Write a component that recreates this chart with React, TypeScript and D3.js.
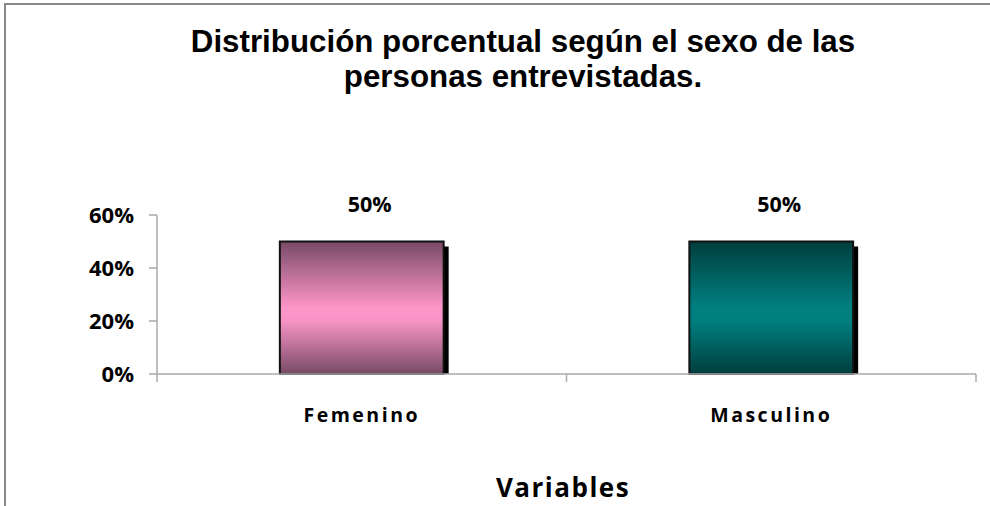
import React from "react";
import * as d3 from "d3";

const categories = ["Femenino", "Masculino"];
const values = [50, 50];
const yTicks = [0, 20, 40, 60];
const titleLines = ["Distribución porcentual según el sexo de las", "personas entrevistadas."];
const xTitle = "Variables";

const W = 990, H = 506;
const plotL = 157, plotR = 976, plotT = 215, plotB = 374;

export default function App() {
  const x = d3.scaleBand<string>().domain(categories).range([plotL, plotR]).paddingInner(0.6).paddingOuter(0.3);
  const band = d3.scaleBand<string>().domain(categories).range([plotL, plotR]);
  const y = d3.scaleLinear().domain([0, 60]).range([plotB, plotT]);
  const bw = x.bandwidth();
  const labelFont = "'Open Sans', 'DejaVu Sans', sans-serif";
  return (
    <svg width={W} height={H} style={{ position: "absolute", left: 0, top: 0, background: "#fff" }}>
      <defs>
        <linearGradient id="gF" x1="0" y1="0" x2="0" y2="1">
          <stop offset="0" stopColor="#774a66" />
          <stop offset="0.5" stopColor="#ff96c9" />
          <stop offset="0.6" stopColor="#f794c5" />
          <stop offset="1" stopColor="#774a66" />
        </linearGradient>
        <linearGradient id="gM" x1="0" y1="0" x2="0" y2="1">
          <stop offset="0" stopColor="#003d3d" />
          <stop offset="0.5" stopColor="#008080" />
          <stop offset="0.6" stopColor="#007f7f" />
          <stop offset="1" stopColor="#003d3d" />
        </linearGradient>
      </defs>
      <rect x={0} y={0} width={W} height={H} fill="#fff" />
      <path d={`M5,${H} V4 H${W}`} fill="none" stroke="#888" strokeWidth={2} />
      {titleLines.map((t, i) => (
        <text key={i} x={523} y={52 + i * 35} textAnchor="middle" fontFamily="'Liberation Sans', Arial, sans-serif" fontWeight="bold" fontSize={31.3} fill="#000">{t}</text>
      ))}
      {/* axes */}
      <line x1={plotL} x2={plotL} y1={plotT} y2={plotB} stroke="#aaa" strokeWidth={1.5} />
      {yTicks.map((t) => (
        <g key={t}>
          <line x1={plotL - 8} x2={plotL} y1={y(t)} y2={y(t)} stroke="#aaa" strokeWidth={1.5} />
          <text x={134} y={y(t) + 8} textAnchor="end" fontFamily={labelFont} fontWeight="bold" fontSize={22} fill="#000">{t}%</text>
        </g>
      ))}
      {categories.map((c, i) => {
        const bx = x(c)!;
        const by = y(values[i]);
        const h = plotB - by;
        return (
          <g key={c}>
            <rect x={bx + 5} y={by + 5} width={bw} height={h - 5} fill="#000" />
            <rect x={bx} y={by} width={bw} height={h} fill={i === 0 ? "url(#gF)" : "url(#gM)"} stroke="#111" strokeWidth={2} />
            <text x={bx + bw / 2 + 8} y={by - 30} textAnchor="middle" fontFamily={labelFont} fontWeight="bold" fontSize={21.5} fill="#000">{values[i]}%</text>
            <text x={band(c)! + band.bandwidth() / 2} y={422} textAnchor="middle" fontFamily={labelFont} fontWeight="bold" fontSize={19.5} letterSpacing={2.5} fill="#000">{c}</text>
          </g>
        );
      })}
      <line x1={plotL} x2={plotR} y1={plotB} y2={plotB} stroke="#aaa" strokeWidth={1.5} />
      {[plotL, ...categories.map((c) => band(c)! + band.bandwidth())].map((tx, i) => (
        <line key={i} x1={tx} x2={tx} y1={plotB} y2={plotB + 8} stroke="#aaa" strokeWidth={1.5} />
      ))}
      <text x={563} y={497} textAnchor="middle" fontFamily={labelFont} fontWeight="bold" fontSize={26} letterSpacing={1.5} fill="#000">{xTitle}</text>
    </svg>
  );
}
